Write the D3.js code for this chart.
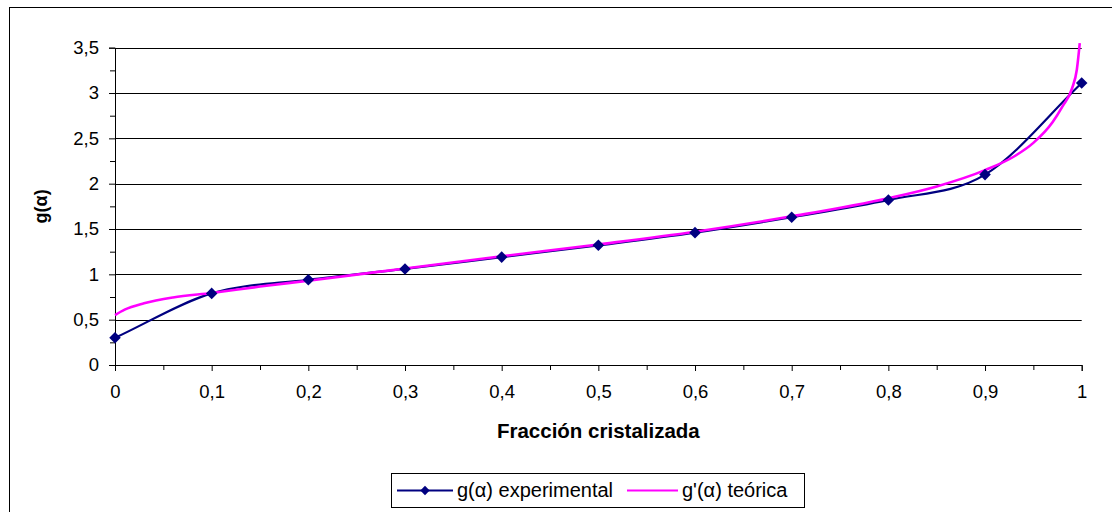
<!DOCTYPE html>
<html>
<head>
<meta charset="utf-8">
<script src="https://cdn.jsdelivr.net/npm/d3@7"></script>
<style>
  html, body { margin: 0; padding: 0; background: #fff; }
  svg { display: block; font-family: "Liberation Sans", Arial, sans-serif; }
</style>
</head>
<body>
<svg id="chart" width="1112" height="512"></svg>
<script>
// Experimental points g(α) versus crystallized fraction
const alphaExp = [0, 0.1, 0.2, 0.3, 0.4, 0.5, 0.6, 0.7, 0.8, 0.9, 1.0];
const gExp     = [0.30, 0.79, 0.94, 1.06, 1.19, 1.32, 1.46, 1.63, 1.82, 2.10, 3.11];

// Theoretical curve g'(α)
const alphaTeo = [0, 0.01, 0.03, 0.06, 0.1, 0.15, 0.2, 0.3, 0.4, 0.5, 0.6, 0.7, 0.8, 0.85, 0.9, 0.93, 0.95, 0.97, 0.98, 0.99, 0.995, 0.998];
const gTeo     = [0.55, 0.61, 0.68, 0.745, 0.795, 0.865, 0.93, 1.065, 1.20, 1.33, 1.47, 1.64, 1.84, 1.97, 2.15, 2.30, 2.45, 2.68, 2.85, 3.05, 3.26, 3.55];

const xTicks = [0, 0.1, 0.2, 0.3, 0.4, 0.5, 0.6, 0.7, 0.8, 0.9, 1];
const xMinorTicks = [0.05, 0.15, 0.25, 0.35, 0.45, 0.55, 0.65, 0.75, 0.85, 0.95];
const yTicks = [0, 0.5, 1, 1.5, 2, 2.5, 3, 3.5];
const yMinorTicks = [0.25, 0.75, 1.25, 1.75, 2.25, 2.75, 3.25];

const seriesNames = ["g(α) experimental", "g'(α) teórica"];
const colExp = "#000080", colTeo = "#FF00FF";
const fmt = v => String(v).replace(".", ",");

const svg = d3.select("#chart");

// outer chart frame (runs past the right and bottom edges)
svg.append("rect")
  .attr("x", 9.5).attr("y", 7.5).attr("width", 1200).attr("height", 600)
  .attr("fill", "none").attr("stroke", "#000").attr("stroke-width", 1);

const x = d3.scaleLinear().domain([0, 1]).range([115, 1081.7]);
const y = d3.scaleLinear().domain([0, 3.5]).range([365, 47.7]);

const snap = v => Math.round(v) + 0.5;

// horizontal gridlines
svg.append("g").selectAll("line").data(yTicks.filter(d => d > 0)).join("line")
  .attr("x1", x(0)).attr("x2", x(1))
  .attr("y1", d => snap(y(d))).attr("y2", d => snap(y(d)))
  .attr("stroke", "#000").attr("stroke-width", 1);

// y axis
const yAxis = d3.axisLeft(y).tickValues(yTicks).tickFormat(fmt).tickSize(6).tickPadding(10);
const gy = svg.append("g").attr("transform", `translate(${snap(x(0)) - 0.5},0)`).call(yAxis);
gy.select(".domain").attr("stroke", "#000");
gy.selectAll(".tick line").attr("stroke", "#000");
gy.selectAll(".tick text").attr("font-size", 18.5).attr("fill", "#000")
  .attr("font-family", "Liberation Sans, Arial, sans-serif");
const yMinor = d3.axisLeft(y).tickValues(yMinorTicks).tickFormat("").tickSize(5);
const gym = svg.append("g").attr("transform", `translate(${snap(x(0)) - 0.5},0)`).call(yMinor);
gym.select(".domain").remove();
gym.selectAll(".tick line").attr("stroke", "#000");

// x axis
const xAxis = d3.axisBottom(x).tickValues(xTicks).tickFormat(fmt).tickSize(6).tickPadding(14);
const gx = svg.append("g").attr("transform", `translate(0,${snap(y(0)) - 0.5})`).call(xAxis);
gx.select(".domain").attr("stroke", "#000");
gx.selectAll(".tick line").attr("stroke", "#000");
gx.selectAll(".tick text").attr("font-size", 18.5).attr("fill", "#000")
  .attr("font-family", "Liberation Sans, Arial, sans-serif");
const xMinor = d3.axisBottom(x).tickValues(xMinorTicks).tickFormat("").tickSize(5);
const gxm = svg.append("g").attr("transform", `translate(0,${snap(y(0)) - 0.5})`).call(xMinor);
gxm.select(".domain").remove();
gxm.selectAll(".tick line").attr("stroke", "#000");

// axis titles
svg.append("text")
  .attr("x", (x(0) + x(1)) / 2).attr("y", 438)
  .attr("text-anchor", "middle").attr("font-size", 20.5).attr("font-weight", "bold")
  .text("Fracción cristalizada");
svg.append("text")
  .attr("transform", `translate(47,${(y(0) + y(3.5)) / 2}) rotate(-90)`)
  .attr("text-anchor", "middle").attr("font-size", 18).attr("font-weight", "bold")
  .text("g(α)");

const expData = alphaExp.map((a, i) => [a, gExp[i]]);
const teoData = alphaTeo.map((a, i) => [a, gTeo[i]]);

// smoothed line: cubic Bézier segments whose handles use 1/6 of the
// neighbour difference; a mirrored phantom point is used past each end
function smoothPath(pts) {
  const p = d3.path();
  const P = pts.map(d => [x(d[0]), y(d[1])]);
  const n = P.length;
  const at = i => {
    if (i < 0) return [2 * P[0][0] - P[1][0], 2 * P[0][1] - P[1][1]];
    if (i >= n) return [2 * P[n - 1][0] - P[n - 2][0], 2 * P[n - 1][1] - P[n - 2][1]];
    return P[i];
  };
  p.moveTo(P[0][0], P[0][1]);
  for (let i = 0; i < n - 1; i++) {
    const a = P[i], b = P[i + 1], prev = at(i - 1), next = at(i + 2);
    const c1 = [a[0] + (b[0] - prev[0]) / 6, a[1] + (b[1] - prev[1]) / 6];
    const c2 = [b[0] - (next[0] - a[0]) / 6, b[1] - (next[1] - a[1]) / 6];
    p.bezierCurveTo(c1[0], c1[1], c2[0], c2[1], b[0], b[1]);
  }
  return p.toString();
}

svg.append("path")
  .attr("fill", "none").attr("stroke", colExp).attr("stroke-width", 2.2)
  .attr("d", smoothPath(expData));

svg.append("path")
  .datum(teoData)
  .attr("fill", "none").attr("stroke", colTeo).attr("stroke-width", 2.6)
  .attr("d", d3.line().x(d => x(d[0])).y(d => y(d[1])).curve(d3.curveMonotoneX));

const diamond = d3.symbol().type(d3.symbolDiamond2).size(85);
svg.append("g").selectAll("path").data(expData).join("path")
  .attr("transform", d => `translate(${x(d[0])},${y(d[1])})`)
  .attr("d", diamond).attr("fill", colExp);

// legend
const lg = svg.append("g");
lg.append("rect")
  .attr("x", 391.5).attr("y", 473.5).attr("width", 413).attr("height", 34)
  .attr("fill", "#fff").attr("stroke", "#000").attr("stroke-width", 1);
const legendItems = [
  { name: seriesNames[0], color: colExp, x0: 397, x1: 453, tx: 457, marker: true },
  { name: seriesNames[1], color: colTeo, x0: 627, x1: 678, tx: 682, marker: false }
];
const legendDiamond = d3.symbol().type(d3.symbolDiamond2).size(55);
legendItems.forEach(it => {
  lg.append("line").attr("x1", it.x0).attr("x2", it.x1).attr("y1", 490.5).attr("y2", 490.5)
    .attr("stroke", it.color).attr("stroke-width", 2.2);
  if (it.marker) {
    lg.append("path").attr("transform", `translate(${(it.x0 + it.x1) / 2},490.5)`)
      .attr("d", legendDiamond).attr("fill", it.color);
  }
  lg.append("text").attr("x", it.tx).attr("y", 497).attr("font-size", 20).attr("fill", "#000")
    .text(it.name);
});
</script>
</body>
</html>
